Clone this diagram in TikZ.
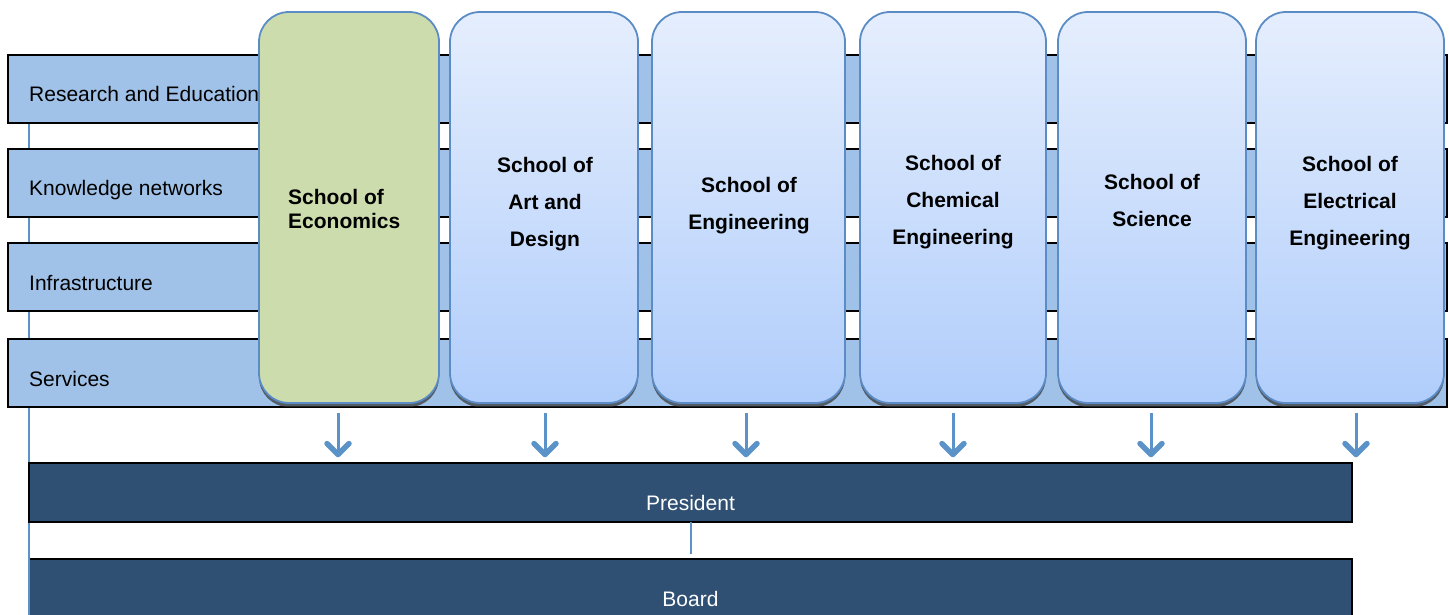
\documentclass[tikz,border=0pt]{standalone}
\usepackage{fontspec}
\setmainfont{Liberation Sans}
\usetikzlibrary{arrows.meta,shadows}
\definecolor{barfill}{HTML}{A0C2E8}
\definecolor{schoolline}{HTML}{5B8CC6}
\definecolor{schooltop}{HTML}{E5EEFD}
\definecolor{schoolbot}{HTML}{B0CDFB}
\definecolor{econ}{HTML}{CDDCAC}
\definecolor{navy}{HTML}{2F5072}
\definecolor{arrowblue}{HTML}{5B93C9}
\begin{document}
\begin{tikzpicture}[x=1pt,y=-1pt,
  layerbar/.style={draw=black, line width=1.6pt, fill=barfill, minimum width=1439pt, minimum height=68pt, inner sep=0pt},
  layertext/.style={anchor=base west, font=\fontsize{21}{25}\selectfont, inner sep=0pt},
  schoolbox/.style={draw=schoolline, line width=1.8pt, rounded corners=30pt, minimum height=391pt, inner sep=0pt,
     drop shadow={shadow xshift=0pt, shadow yshift=-4pt, fill=black!80, opacity=0.7}},
  bluegrad/.style={top color=schooltop, bottom color=schoolbot},
  schooltext/.style={font=\fontsize{21}{37}\selectfont\bfseries, align=center, inner sep=0pt},
  topbox/.style={draw=black, line width=1.4pt, fill=navy, minimum width=1323pt, inner sep=0pt},
  toptext/.style={anchor=base, font=\fontsize{21}{25}\selectfont, text=white, inner sep=0pt},
  downarrow/.style={draw=arrowblue, line width=3pt, -{Straight Barb[length=11pt, width=22pt, line width=5.5pt 0, round]}},
  linkline/.style={draw=arrowblue, line width=2pt}
]
\useasboundingbox (0,0) rectangle (1449,614);

% spine line
\coordinate (spine) at (29,124);
\node[topbox, minimum height=80pt] (board) at (690.5,599) {};
\draw[linkline] (spine) -- (spine |- board.south);

% layer bars
\node[layerbar] (bar1) at (727.5,89) {};
\node[layerbar] (bar2) at (727.5,183) {};
\node[layerbar] (bar3) at (727.5,277) {};
\node[layerbar] (bar4) at (727.5,373) {};
\node[layertext] (lab1) at (29,101) {Research and Education};
\node[layertext] (lab2) at (29,195) {Knowledge networks};
\node[layertext] (lab3) at (29,290) {Infrastructure};
\node[layertext] (lab4) at (29,386) {Services};

% schools
\node[schoolbox, fill=econ, minimum width=180pt] (s1) at (349,207.5) {};
\node[schoolbox, bluegrad, minimum width=188pt] (s2) at (544,207.5) {};
\node[schoolbox, bluegrad, minimum width=193pt] (s3) at (748.5,207.5) {};
\node[schoolbox, bluegrad, minimum width=186pt] (s4) at (953,207.5) {};
\node[schoolbox, bluegrad, minimum width=188pt] (s5) at (1152,207.5) {};
\node[schoolbox, bluegrad, minimum width=188pt] (s6) at (1350,207.5) {};

\node[schooltext, font=\fontsize{21}{24}\selectfont\bfseries, align=left, anchor=west] (t1) at (288,208.5) {School of\\Economics};
\node[schooltext] (t2) at (545,204.5) {School of\\Art and\\Design};
\node[schooltext] (t3) at (749,205.5) {School of\\Engineering};
\node[schooltext] (t4) at (953,202.5) {School of\\Chemical\\Engineering};
\node[schooltext] (t5) at (1152,200.5) {School of\\Science};
\node[schooltext] (t6) at (1350,203) {School of\\Electrical\\Engineering};

% president and board
\node[topbox, minimum height=59pt] (pres) at (690.5,492.5) {};
\node[toptext] (plab) at (690.5,510) {President};
\node[toptext] (blab) at (690.5,606) {Board};
\draw[linkline, shorten <=-1pt, shorten >=4pt] (pres.south) -- (board.north);

% arrows
\foreach \i/\x in {1/338,2/545,3/746,4/953,5/1151,6/1356}{
  \coordinate (a\i) at (\x,413);
  \draw[downarrow, shorten >=5pt] (a\i) -- (a\i |- pres.north);
}
\end{tikzpicture}
\end{document}
